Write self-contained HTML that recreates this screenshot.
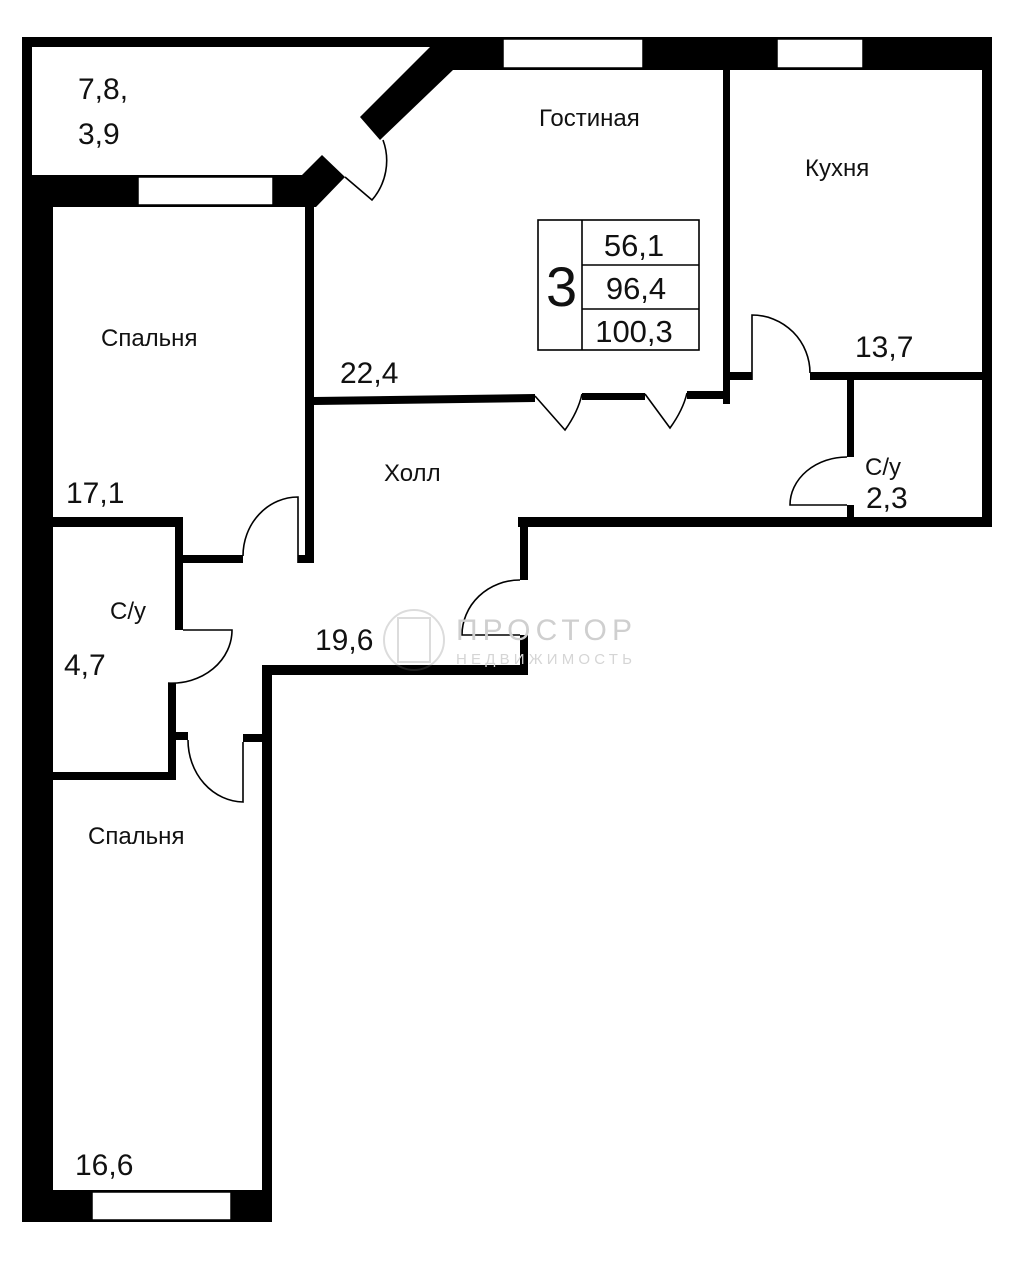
<!DOCTYPE html>
<html><head><meta charset="utf-8"><style>
html,body{margin:0;padding:0;background:#fff;}
svg{display:block;}
text{font-family:"Liberation Sans","DejaVu Sans",sans-serif;fill:#111;}
</style></head><body>
<svg width="1012" height="1280" viewBox="0 0 1012 1280" xmlns="http://www.w3.org/2000/svg">
<g fill="#000">
<!-- balcony thin walls -->
<rect x="22" y="37" width="412" height="10"/>
<rect x="22" y="37" width="10" height="150"/>
<!-- top wall living/kitchen -->
<rect x="430" y="37" width="562" height="33"/>
<!-- diagonal -->
<polygon points="430,37 455,37 453,70 380,140 360,117 430,47"/>
<!-- diagonal stub & balcony bottom wall -->
<polygon points="302,175 322,155 345,177 316,207 22,207 22,175"/>
<!-- right outer wall -->
<rect x="982" y="37" width="10" height="490"/>
<!-- left outer wall -->
<rect x="22" y="175" width="31" height="1047"/>
<!-- bottom wall -->
<rect x="22" y="1190" width="250" height="32"/>
<!-- bedroom2 right wall -->
<rect x="262" y="665" width="10" height="557"/>
<!-- hall bottom wall -->
<rect x="262" y="665" width="266" height="10"/>
<rect x="520" y="635" width="8" height="40"/>
<rect x="520" y="517" width="8" height="63"/>
<!-- right-part bottom wall -->
<rect x="518" y="517" width="474" height="10"/>
<!-- wall bedroom1/living -->
<rect x="305" y="205" width="9" height="358"/>
<rect x="298" y="555" width="16" height="8"/>
<!-- living/hall partition -->
<polygon points="314,397 535,394 535,402 314,405"/>
<rect x="582" y="393" width="63" height="7"/>
<rect x="687" y="391" width="36" height="8"/>
<!-- living/kitchen wall -->
<rect x="723" y="70" width="7" height="334"/>
<rect x="730" y="372" width="22" height="8"/>
<rect x="810" y="372" width="172" height="8"/>
<!-- small WC wall -->
<rect x="847" y="380" width="7" height="77"/>
<rect x="847" y="505" width="7" height="14"/>
<!-- bedroom1 bottom / wc top -->
<rect x="53" y="517" width="130" height="10"/>
<rect x="175" y="517" width="8" height="113"/>
<rect x="183" y="555" width="60" height="8"/>
<rect x="168" y="683" width="8" height="97"/>
<rect x="53" y="772" width="123" height="8"/>
<rect x="176" y="732" width="12" height="8"/>
<rect x="243" y="734" width="19" height="8"/>
</g>
<!-- windows -->
<g fill="#fff" stroke="#000" stroke-width="1.5">
<rect x="503" y="39" width="140" height="29"/>
<rect x="777" y="39" width="86" height="29"/>
<rect x="138" y="177" width="135" height="28"/>
<rect x="92" y="1192" width="139" height="28"/>
</g>
<!-- doors -->
<g fill="none" stroke="#000" stroke-width="1.6">
<path d="M345,177 L372,200 A60,60 0 0 0 383,140"/>
<path d="M535,396 L565,430 Q578,412 582,394"/>
<path d="M645,394 L670,428 Q683,410 687,393"/>
<path d="M752,380 L752,315 A58,58 0 0 1 810,373"/>
<path d="M847,505 L790,505 A57,48 0 0 1 847,457"/>
<path d="M298,563 L298,497 A55,59 0 0 0 243,556"/>
<path d="M183,630 L232,630 A60,53 0 0 1 168,683"/>
<path d="M243,742 L243,802 A56,62 0 0 1 188,740"/>
<path d="M520,635 L462,635 A58,55 0 0 1 520,580"/>
</g>
<!-- info table -->
<g fill="none" stroke="#000" stroke-width="1.6">
<rect x="538" y="220" width="161" height="130"/>
<line x1="582" y1="220" x2="582" y2="350"/>
<line x1="582" y1="265" x2="699" y2="265"/>
<line x1="582" y1="309" x2="699" y2="309"/>
</g>
<text x="546" y="306" font-size="56">3</text>
<g font-size="31" text-anchor="middle">
<text x="634" y="256">56,1</text>
<text x="636" y="299">96,4</text>
<text x="634" y="342">100,3</text>
</g>
<!-- watermark -->
<g opacity="0.25" fill="none" stroke="#777" stroke-width="2">
<circle cx="414" cy="640" r="30"/>
<rect x="398" y="618" width="32" height="44"/>
</g>
<text x="456" y="640" font-size="30" fill="#ccc" style="fill:#cfcfcf" textLength="176">ПРОСТОР</text>
<text x="456" y="664" font-size="15" style="fill:#d5d5d5" textLength="176">НЕДВИЖИМОСТЬ</text>
<!-- labels -->
<g font-size="24">
<text x="539" y="126">Гостиная</text>
<text x="805" y="176">Кухня</text>
<text x="101" y="346">Спальня</text>
<text x="384" y="481">Холл</text>
<text x="865" y="475">С/у</text>
<text x="110" y="619">С/у</text>
<text x="88" y="844">Спальня</text>
</g>
<g font-size="30">
<text x="78" y="99">7,8,</text>
<text x="78" y="144">3,9</text>
<text x="340" y="383">22,4</text>
<text x="855" y="357">13,7</text>
<text x="866" y="508">2,3</text>
<text x="66" y="503">17,1</text>
<text x="315" y="650">19,6</text>
<text x="64" y="675">4,7</text>
<text x="75" y="1175">16,6</text>
</g>
</svg>
</body></html>
